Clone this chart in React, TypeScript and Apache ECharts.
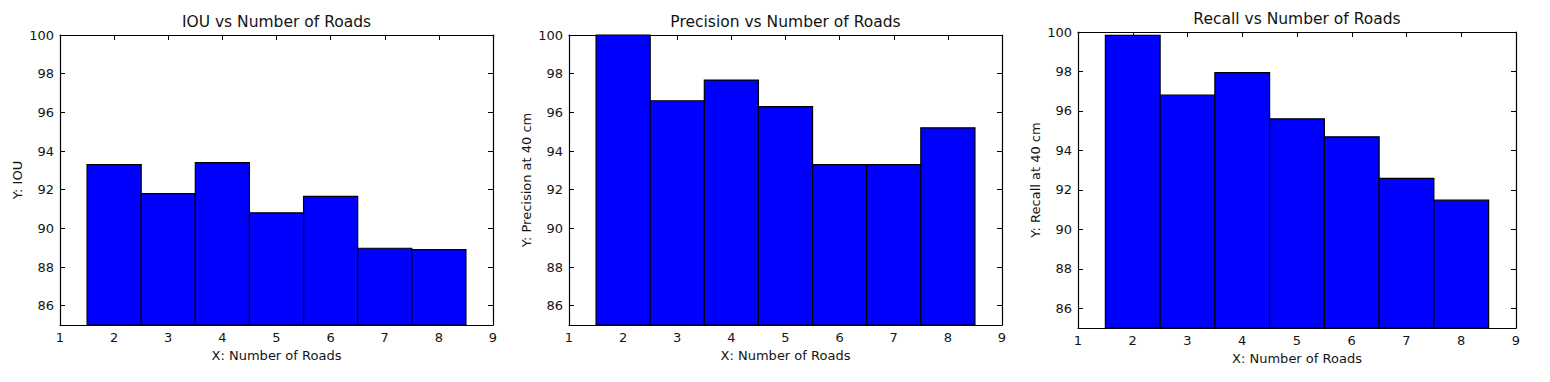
import React, { useEffect, useRef } from "react";
import * as echarts from "echarts";

const roads = [2, 3, 4, 5, 6, 7, 8];
const iouValues = [93.3, 91.8, 93.4, 90.8, 91.65, 88.97, 88.9];
const precisionValues = [100, 96.6, 97.67, 96.3, 93.3, 93.3, 95.2];
const recallValues = [99.83, 96.8, 97.94, 95.6, 94.69, 92.58, 91.48];
const yTickValues = [86, 88, 90, 92, 94, 96, 98, 100];
const xTickValues = [1, 2, 3, 4, 5, 6, 7, 8, 9];
const Y_MIN = 85;
const Y_MAX = 100;
const X_MIN = 1;
const X_MAX = 9;

const panels = [
  { title: "IOU vs Number of Roads", yName: "Y: IOU", xName: "X: Number of Roads", values: iouValues },
  { title: "Precision vs Number of Roads", yName: "Y: Precision at 40 cm", xName: "X: Number of Roads", values: precisionValues },
  { title: "Recall vs Number of Roads", yName: "Y: Recall at 40 cm", xName: "X: Number of Roads", values: recallValues },
];

const grids = [
  { left: 60, top: 35, width: 433, height: 290 },
  { left: 569, top: 35, width: 433, height: 290 },
  { left: 1078, top: 32, width: 438, height: 296 },
];

const FONT = "DejaVu Sans";
const TEXT = "#141414";

export default function App() {
  const ref = useRef<HTMLDivElement>(null);
  useEffect(() => {
    if (!ref.current) return;
    const chart = echarts.init(ref.current, undefined, { renderer: "svg" });
    const xAxis: any[] = [];
    const yAxis: any[] = [];
    const series: any[] = [];
    const graphic: any[] = [];
    const line = { show: true, lineStyle: { color: "#000", width: 1.2 } };
    const tick = { show: true, inside: true, length: 5, lineStyle: { color: "#000", width: 1 } };
    panels.forEach((p, i) => {
      const g = grids[i];
      xAxis.push({
        type: "value", gridIndex: i, min: X_MIN, max: X_MAX, interval: 1, position: "bottom",
        axisLine: line,
        axisTick: tick,
        axisLabel: { show: true, margin: 6, color: TEXT, fontSize: 13, fontFamily: FONT, customValues: xTickValues },
        splitLine: { show: false },
        name: p.xName, nameLocation: "middle", nameGap: 24,
        nameTextStyle: { color: TEXT, fontSize: 13, fontFamily: FONT },
      });
      xAxis.push({
        type: "value", gridIndex: i, min: X_MIN, max: X_MAX, interval: 1, position: "top",
        axisLine: line,
        axisTick: tick,
        axisLabel: { show: false },
        splitLine: { show: false },
      });
      yAxis.push({
        type: "value", gridIndex: i, min: Y_MIN, max: Y_MAX, position: "left",
        axisLine: line,
        axisTick: { ...tick, customValues: yTickValues },
        axisLabel: { show: true, margin: 6, color: TEXT, fontSize: 13, fontFamily: FONT, customValues: yTickValues },
        splitLine: { show: false },
        name: p.yName, nameLocation: "middle", nameGap: 36,
        nameTextStyle: { color: TEXT, fontSize: 13, fontFamily: FONT },
      });
      yAxis.push({
        type: "value", gridIndex: i, min: Y_MIN, max: Y_MAX, position: "right",
        axisLine: line,
        axisTick: { ...tick, customValues: yTickValues },
        axisLabel: { show: false },
        splitLine: { show: false },
      });
      series.push({
        type: "custom",
        xAxisIndex: i * 2,
        yAxisIndex: i * 2,
        data: roads.map((r, k) => [r, p.values[k]]),
        encode: { x: 0, y: 1 },
        renderItem: (params: any, api: any) => {
          const x = api.value(0);
          const y = api.value(1);
          const p1 = api.coord([x - 0.5, y]);
          const p2 = api.coord([x + 0.5, Y_MIN]);
          return {
            type: "rect",
            shape: { x: p1[0], y: p1[1], width: p2[0] - p1[0], height: p2[1] - p1[1] },
            style: { fill: "#0000ff", stroke: "#000", lineWidth: 1.2 },
          };
        },
      });
      graphic.push({
        type: "text",
        x: g.left + g.width / 2,
        y: g.top - 13,
        style: {
          text: p.title, fill: TEXT, fontSize: 15.5, fontFamily: FONT,
          textAlign: "center", textVerticalAlign: "middle",
        },
      });
    });
    chart.setOption({
      animation: false,
      backgroundColor: "#fff",
      grid: grids.map((g) => ({ ...g, containLabel: false })),
      xAxis,
      yAxis,
      series,
      graphic,
    });
    return () => chart.dispose();
  }, []);
  return <div ref={ref} style={{ position: "absolute", left: 0, top: 0, width: 1550, height: 382 }} />;
}
